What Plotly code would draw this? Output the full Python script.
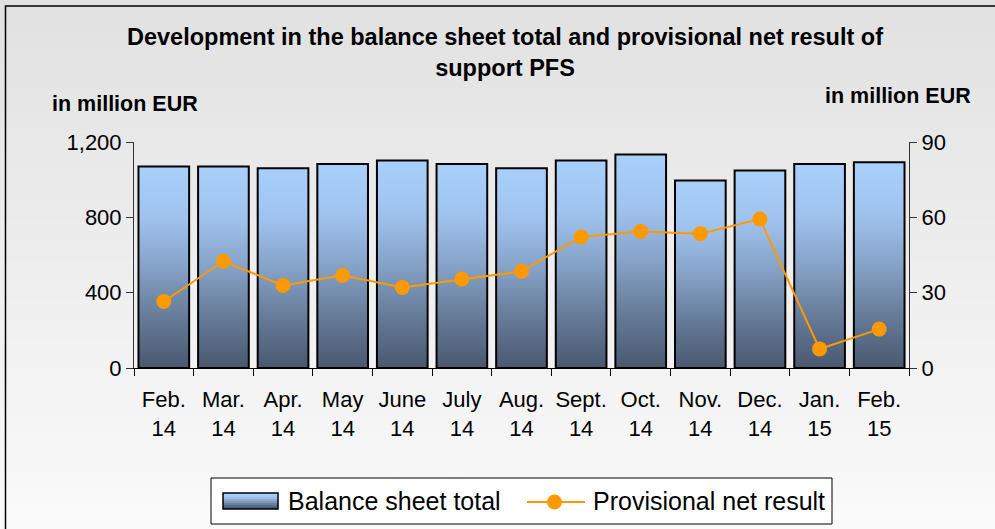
import plotly.graph_objects as go

# ---- data ----
months = ["Feb.<br>14", "Mar.<br>14", "Apr.<br>14", "May<br>14", "June<br>14", "July<br>14",
          "Aug.<br>14", "Sept.<br>14", "Oct.<br>14", "Nov.<br>14", "Dec.<br>14", "Jan.<br>15", "Feb.<br>15"]
balance_total = [1070, 1070, 1060, 1083, 1102, 1083, 1060, 1102, 1134, 996, 1049, 1083, 1092]
net_result = [26.5, 42.5, 32.9, 36.9, 32.1, 35.4, 38.5, 52.2, 54.4, 53.5, 59.3, 7.6, 15.5]
left_ticks = [0, 400, 800, 1200]
right_ticks = [0, 30, 60, 90]
series_names = ["Balance sheet total", "Provisional net result"]

# ---- geometry / style ----
W, H = 995, 529
ML, MR, MT, MB = 134, 86, 142, 161
PW, PH = W - ML - MR, H - MT - MB
FONT = "Liberation Sans, Arial, sans-serif"
ORANGE = "#FF9900"


def px_x(px):
    return (px - ML) / PW


def px_y(py):
    return (H - MB - py) / PH


def lerp_scale(scale, t):
    for (t0, c0), (t1, c1) in zip(scale[:-1], scale[1:]):
        if t0 <= t <= t1:
            f = (t - t0) / (t1 - t0) if t1 > t0 else 0
            a = [int(c0[k:k + 2], 16) for k in (1, 3, 5)]
            b = [int(c1[k:k + 2], 16) for k in (1, 3, 5)]
            return "rgb(%d,%d,%d)" % tuple(round(a[j] + (b[j] - a[j]) * f) for j in range(3))
    return scale[-1][1]


fig = go.Figure()

# bars as gradient-filled polygons
half = 0.425
bar_scale = [[0, "#4a5870"], [0.25, "#657b98"], [0.5, "#86a2c7"], [0.75, "#9fc3ee"], [1, "#a8d0fb"]]
for i, v in enumerate(balance_total):
    fig.add_trace(go.Scatter(
        x=[i - half, i + half, i + half, i - half, i - half],
        y=[0, 0, v, v, 0],
        mode="lines", fill="toself",
        fillgradient=dict(type="vertical", colorscale=bar_scale),
        line=dict(color="black", width=2),
        name=series_names[0], legendgroup="bal",
        showlegend=False,
        hoverinfo="text", text=f"{v:,}",
        yaxis="y",
    ))

fig.add_trace(go.Scatter(
    x=list(range(len(months))), y=net_result,
    mode="lines+markers", name=series_names[1], showlegend=False,
    line=dict(color=ORANGE, width=2),
    marker=dict(color=ORANGE, size=15),
    yaxis="y2",
))

# background gradient strips + outer border
shapes = []
N = 54
for i in range(N):
    t = i / (N - 1)
    c = int(226 + (251 - 226) * t)
    shapes.append(dict(type="rect", xref="paper", yref="paper", layer="below",
                       x0=px_x(-5), x1=px_x(1000), y0=px_y(i * 10), y1=px_y(i * 10 + 11),
                       fillcolor=f"rgb({c},{c},{c})", line=dict(width=0)))
shapes.append(dict(type="rect", xref="paper", yref="paper", layer="below",
                   x0=px_x(5.5), x1=px_x(1000), y0=px_y(6), y1=px_y(560),
                   fillcolor="rgba(0,0,0,0)", line=dict(color="black", width=1.5)))

# legend box (drawn as layout shapes)
shapes.append(dict(type="rect", xref="paper", yref="paper", layer="above",
                   x0=px_x(211), x1=px_x(832), y0=px_y(478), y1=px_y(524),
                   fillcolor="white", line=dict(color="black", width=1)))
SW = 8
for k in range(SW):
    shapes.append(dict(type="rect", xref="paper", yref="paper", layer="above",
                       x0=px_x(223), x1=px_x(278), y0=px_y(493 + 2 * k), y1=px_y(495 + 2 * k),
                       fillcolor=lerp_scale(bar_scale, 1 - k / (SW - 1)), line=dict(width=0)))
shapes.append(dict(type="rect", xref="paper", yref="paper", layer="above",
                   x0=px_x(223), x1=px_x(278), y0=px_y(493), y1=px_y(509),
                   fillcolor="rgba(0,0,0,0)", line=dict(color="black", width=1.5)))
shapes.append(dict(type="line", xref="paper", yref="paper", layer="above",
                   x0=px_x(527), x1=px_x(585), y0=px_y(502), y1=px_y(502),
                   line=dict(color=ORANGE, width=2)))
shapes.append(dict(type="circle", xref="paper", yref="paper", layer="above",
                   x0=px_x(547), x1=px_x(562), y0=px_y(494.5), y1=px_y(509.5),
                   fillcolor=ORANGE, line=dict(color=ORANGE, width=0)))

n = len(months)
fig.update_layout(
    width=W, height=H,
    margin=dict(l=ML, r=MR, t=MT, b=MB),
    paper_bgcolor="white", plot_bgcolor="rgba(0,0,0,0)",
    font=dict(family=FONT, color="black", size=22),
    title=dict(text="<b>Development in the balance sheet total and provisional net result of<br>support PFS</b>",
               x=505 / W, xanchor="center", y=1 - 45 / H, yanchor="top",
               font=dict(size=23.5, family=FONT, color="black")),
    xaxis=dict(range=[-0.5, n - 0.5], tickmode="array", tickvals=list(range(n)), ticktext=months,
               ticks="", ticklabelstandoff=12, showgrid=False, zeroline=False,
               showline=True, linecolor="black", linewidth=1,
               minor=dict(tickmode="array", tickvals=[k - 0.5 for k in range(n + 1)],
                          ticks="outside", ticklen=7, tickcolor="black", tickwidth=1, showgrid=False),
               tickfont=dict(size=22)),
    yaxis=dict(range=[0, 1200], tickmode="array", tickvals=left_ticks, tickformat=",",
               ticks="outside", ticklen=7, tickcolor="#333", showgrid=False, zeroline=False,
               showline=True, linecolor="#333", linewidth=1, tickfont=dict(size=22)),
    yaxis2=dict(range=[0, 90], tickmode="array", tickvals=right_ticks, overlaying="y", side="right",
                ticks="outside", ticklen=7, tickcolor="#333", showgrid=False, zeroline=False,
                showline=True, linecolor="#333", linewidth=1, tickfont=dict(size=22)),
    shapes=shapes,
    annotations=[
        dict(text="<b>in million EUR</b>", xref="paper", yref="paper", x=px_x(50), xanchor="left",
             y=px_y(104), yanchor="middle", showarrow=False, font=dict(size=21.5, family=FONT)),
        dict(text="<b>in million EUR</b>", xref="paper", yref="paper", x=px_x(973), xanchor="right",
             y=px_y(96), yanchor="middle", showarrow=False, font=dict(size=21.5, family=FONT)),
        dict(text=series_names[0], xref="paper", yref="paper", x=px_x(286), xanchor="left",
             y=px_y(501), yanchor="middle", showarrow=False, font=dict(size=25, family=FONT)),
        dict(text=series_names[1], xref="paper", yref="paper", x=px_x(591), xanchor="left",
             y=px_y(501), yanchor="middle", showarrow=False, font=dict(size=25, family=FONT)),
    ],
    showlegend=False,
)

fig.write_html("out.html", config={"displayModeBar": False},
               post_script="document.body.style.margin='0';document.body.style.overflow='hidden';")
